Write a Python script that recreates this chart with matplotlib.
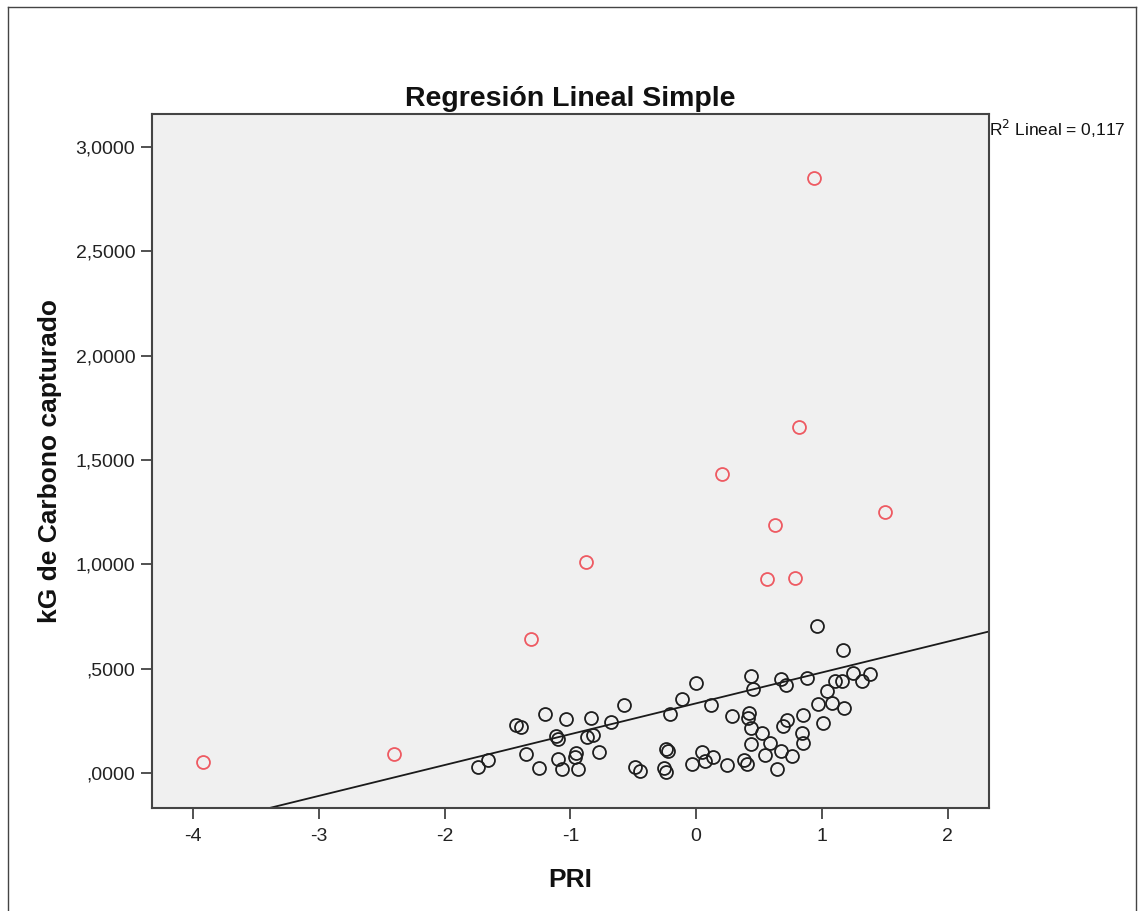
import matplotlib
matplotlib.use("Agg")
import matplotlib.pyplot as plt
from matplotlib.lines import Line2D
from matplotlib.ticker import FuncFormatter
import numpy as np

plt.rcParams['font.family'] = ['Liberation Sans', 'DejaVu Sans']

# Main cluster (black circles)
pri_black = [-1.738, -1.653, -1.433, -1.393, -1.202, -1.354, -1.250, -1.115, -1.099, -1.037,
             -1.099, -1.067, -0.955, -0.963, -0.937, -0.836, -0.870, -0.823, -0.772, -0.677,
             -0.573, -0.486, -0.446, -0.208, -0.110, -0.001, 0.116, -0.239, -0.224, -0.255,
             -0.239, -0.030, 0.047, 0.071, 0.137, 0.964, 1.166, 0.437, 0.450, 0.673,
             0.715, 0.880, 1.251, 1.383, 1.322, 1.105, 1.158, 1.039, 0.972, 1.084,
             1.177, 1.007, 0.288, 0.421, 0.410, 0.434, 0.527, 0.434, 0.588, 0.673,
             0.548, 0.761, 0.641, 0.381, 0.403, 0.248, 0.689, 0.726, 0.848, 0.840,
             0.848]
kg_black = [0.030, 0.062, 0.230, 0.222, 0.283, 0.090, 0.025, 0.177, 0.163, 0.258,
            0.066, 0.018, 0.097, 0.078, 0.018, 0.265, 0.171, 0.182, 0.102, 0.243,
            0.323, 0.030, 0.011, 0.282, 0.355, 0.430, 0.323, 0.115, 0.106, 0.023,
            0.006, 0.042, 0.102, 0.058, 0.078, 0.705, 0.590, 0.465, 0.401, 0.449,
            0.422, 0.457, 0.481, 0.475, 0.441, 0.438, 0.441, 0.390, 0.329, 0.334,
            0.310, 0.241, 0.273, 0.286, 0.262, 0.217, 0.193, 0.139, 0.142, 0.107,
            0.086, 0.082, 0.018, 0.062, 0.042, 0.038, 0.225, 0.251, 0.278, 0.193,
            0.145]

# Highlighted points (red circles)
pri_red = [-3.92, -2.40, -1.31, -0.876, 0.206, 0.819, 0.628, 0.564, 0.787, 1.502, 0.938]
kg_red = [0.053, 0.091, 0.643, 1.012, 1.434, 1.659, 1.189, 0.930, 0.935, 1.252, 2.849]

# Linear fit
fit_slope = 0.1478
fit_intercept = 0.3333
r2_text = "R$^2$ Lineal = 0,117"

x_ticks = [-4, -3, -2, -1, 0, 1, 2]
y_ticks = [0.0, 0.5, 1.0, 1.5, 2.0, 2.5, 3.0]

fig = plt.figure(figsize=(11.43, 9.11), dpi=100)
fig.patch.set_facecolor('white')
ax = fig.add_axes([152/1143, 1 - 807.5/911, (989-152)/1143, (807.5-114)/911])
ax.set_facecolor('#F0F0F0')

xlim = (-4.329, 2.330)
ylim = (-0.166, 3.158)
ax.set_xlim(*xlim)
ax.set_ylim(*ylim)

xs = np.array(xlim)
ax.plot(xs, fit_intercept + fit_slope * xs, color='#1a1a1a', lw=1.3, zorder=2)

ax.plot(pri_black, kg_black, linestyle='none', marker='o', markersize=9.3,
        markerfacecolor='none', markeredgecolor='#1e1e1e', markeredgewidth=1.3, zorder=3)
ax.plot(pri_red, kg_red, linestyle='none', marker='o', markersize=9.3,
        markerfacecolor='none', markeredgecolor='#EE5A62', markeredgewidth=1.3, zorder=3)

ax.set_xticks(x_ticks)
ax.set_yticks(y_ticks)

def yfmt(v, pos):
    s = f"{v:.4f}".replace('.', ',')
    if s.startswith('0,'):
        s = s[1:]
    return s

ax.yaxis.set_major_formatter(FuncFormatter(yfmt))
ax.xaxis.set_major_formatter(FuncFormatter(lambda v, p: f"{int(v)}"))
ax.tick_params(axis='both', direction='out', length=8, width=1.2, color='#333333',
               labelsize=14, labelcolor='#222222', pad=4)
ax.tick_params(axis='x', pad=7)

for sp in ax.spines.values():
    sp.set_color('#444444')
    sp.set_linewidth(1.5)

ax.set_title("Regresión Lineal Simple", fontsize=20.5, fontweight='bold', pad=6, color='#111111')
ax.set_xlabel("PRI", fontsize=19, fontweight='bold', labelpad=16, color='#111111')
ax.set_ylabel("kG de Carbono capturado", fontsize=19, fontweight='bold', labelpad=10, color='#111111')

ax.text(1.0005, 0.978, r2_text, transform=ax.transAxes, ha='left', va='center',
        fontsize=12.5, color='#111111')

# outer frame
W, H = 1143, 911
for (x0, y0, x1, y1) in [(8, 7, 1136, 7), (8, 7, 8, 911), (1136, 7, 1136, 911)]:
    fig.add_artist(Line2D([x0/W, x1/W], [1 - y0/H, 1 - y1/H], color='#444444', lw=1.0,
                          transform=fig.transFigure))

fig.savefig("out.png", dpi=100)
